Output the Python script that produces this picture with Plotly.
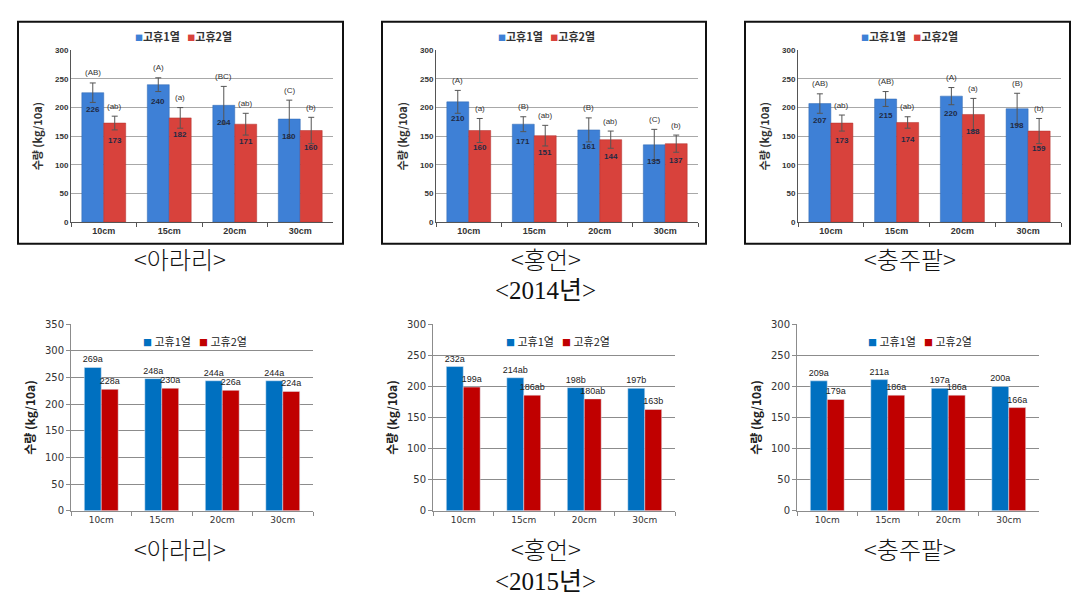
import plotly.graph_objects as go

W, H = 1085, 607

categories = ["10cm", "15cm", "20cm", "30cm"]
series_names = ["고휴1열", "고휴2열"]

# 2014 (top row)
arari14_s1 = [226, 240, 204, 180]
arari14_s2 = [173, 182, 171, 160]
arari14_e1 = [17, 12, 33, 33]
arari14_e2 = [12, 18, 19, 23]
arari14_l1 = ["(AB)", "(A)", "(BC)", "(C)"]
arari14_l2 = ["(ab)", "(a)", "(ab)", "(b)"]

hong14_s1 = [210, 171, 161, 135]
hong14_s2 = [160, 151, 144, 137]
hong14_e1 = [20, 13, 21, 27]
hong14_e2 = [21, 18, 15, 15]
hong14_l1 = ["(A)", "(B)", "(B)", "(C)"]
hong14_l2 = ["(a)", "(ab)", "(ab)", "(b)"]

chung14_s1 = [207, 215, 220, 198]
chung14_s2 = [173, 174, 188, 159]
chung14_e1 = [17, 13, 15, 27]
chung14_e2 = [14, 10, 28, 22]
chung14_l1 = ["(AB)", "(AB)", "(A)", "(B)"]
chung14_l2 = ["(ab)", "(ab)", "(a)", "(b)"]

# 2015 (bottom row)
arari15_s1 = [269, 248, 244, 244]
arari15_s2 = [228, 230, 226, 224]
arari15_l1 = ["a", "a", "a", "a"]
arari15_l2 = ["a", "a", "a", "a"]

hong15_s1 = [232, 214, 198, 197]
hong15_s2 = [199, 186, 180, 163]
hong15_l1 = ["a", "ab", "b", "b"]
hong15_l2 = ["a", "ab", "ab", "b"]

chung15_s1 = [209, 211, 197, 200]
chung15_s2 = [179, 186, 186, 166]
chung15_l1 = ["a", "a", "a", "a"]
chung15_l2 = ["a", "a", "a", "a"]

y_title = "수량 (kg/10a)"
captions_top = ["<아라리>", "<홍언>", "<충주팥>"]
captions_bot = ["<아라리>", "<홍언>", "<충주팥>"]
year_top = "<2014년>"
year_bot = "<2015년>"

KR = "Noto Sans CJK KR"
SERIF = "Liberation Serif, Noto Sans CJK KR"

def px_x(v):
    return v / W

def px_y(v):
    return 1 - v / H

fig = go.Figure()

top_sets = [
    (arari14_s1, arari14_s2, arari14_e1, arari14_e2, arari14_l1, arari14_l2),
    (hong14_s1, hong14_s2, hong14_e1, hong14_e2, hong14_l1, hong14_l2),
    (chung14_s1, chung14_s2, chung14_e1, chung14_e2, chung14_l1, chung14_l2),
]
bot_sets = [
    (arari15_s1, arari15_s2, arari15_l1, arari15_l2, 350),
    (hong15_s1, hong15_s2, hong15_l1, hong15_l2, 300),
    (chung15_s1, chung15_s2, chung15_l1, chung15_l2, 300),
]

top_dom_x = [(63, 325), (428, 690), (790, 1053)]
top_dom_y = (38, 213)
top_frames = [(10, 335), (374, 698), (737, 1062)]
top_legend_cx = [175, 538, 901]
bot_dom_x = [(63, 305), (425, 667), (789, 1031)]
bot_dom_y = (317, 507)
bot_legend_x = [(133, 189), (496, 552), (858, 914)]

TOP_BLUE = "#3E80D6"
TOP_RED = "#D8423C"
BOT_BLUE = "#0070C0"
BOT_RED = "#C00000"

shapes = []
annotations = []
layout_axes = {}

for i, (s1, s2, e1, e2, l1, l2) in enumerate(top_sets):
    n = i + 1
    xa = "x" if n == 1 else f"x{n}"
    ya = "y" if n == 1 else f"y{n}"
    bw = 0.335
    fig.add_trace(go.Bar(
        x=categories, y=s1, name=series_names[0], xaxis=xa, yaxis=ya, showlegend=False,
        width=bw, offset=-bw,
        marker=dict(color=TOP_BLUE, line=dict(color="#2F66B0", width=0.5)),
        error_y=dict(type="data", array=e1, color="#555555", thickness=1, width=3),
        textposition="none",
    ))
    fig.add_trace(go.Bar(
        x=categories, y=s2, name=series_names[1], xaxis=xa, yaxis=ya, showlegend=False,
        width=bw, offset=0,
        marker=dict(color=TOP_RED, line=dict(color="#B02E2A", width=0.5)),
        error_y=dict(type="data", array=e2, color="#555555", thickness=1, width=3),
        textposition="none",
    ))
    for j, c in enumerate(categories):
        for s, e, l, sh in ((s1, e1, l1, -0.5 * bw), (s2, e2, l2, 0.5 * bw)):
            annotations.append(dict(
                x=j + sh, y=s[j], xref=xa, yref=ya, text=f"<b>{s[j]}</b>",
                showarrow=False, yshift=-17, font=dict(size=8, color="#1F2A44", family="Arial"),
            ))
            annotations.append(dict(
                x=j + sh, y=s[j] + e[j], xref=xa, yref=ya, text=l[j],
                showarrow=False, yshift=10, font=dict(size=8, color="#333333", family="Arial"),
            ))
    dx = top_dom_x[i]
    layout_axes["xaxis" if n == 1 else f"xaxis{n}"] = dict(
        domain=[px_x(dx[0]), px_x(dx[1])], anchor=ya, type="category",
        range=[-0.5, 3.5], showgrid=False, showline=True, linecolor="#555555", linewidth=1,
        ticks="outside", tickson="boundaries", ticklen=4, tickcolor="#555555",
        tickfont=dict(size=9, color="#333333", family="Arial", weight="bold"),
        fixedrange=True,
    )
    layout_axes["yaxis" if n == 1 else f"yaxis{n}"] = dict(
        domain=[px_y(top_dom_y[1]), px_y(top_dom_y[0])], anchor=xa,
        range=[0, 300], dtick=50, showgrid=True, gridcolor="#A8A8A8", gridwidth=1,
        showline=True, linecolor="#555555", linewidth=1, zeroline=False,
        ticks="", tickfont=dict(size=8, color="#333333", family="Arial", weight="bold"),
        title=dict(text=f"<b>{y_title}</b>", font=dict(size=11, color="#333333", family=KR), standoff=10),
        fixedrange=True,
    )
    fr = top_frames[i]
    shapes.append(dict(type="rect", xref="paper", yref="paper",
                       x0=px_x(fr[0]), x1=px_x(fr[1]), y0=px_y(235), y1=px_y(9),
                       line=dict(color="#111111", width=2), fillcolor="rgba(0,0,0,0)", layer="above"))
    leg_text = (f"<span style='color:{TOP_BLUE};font-size:8px'>■</span><b>{series_names[0]}</b>"
                f"   <span style='color:{TOP_RED};font-size:8px'>■</span><b>{series_names[1]}</b>")
    annotations.append(dict(x=px_x(top_legend_cx[i]), y=px_y(23), xref="paper", yref="paper",
                            xanchor="center", yanchor="middle", text=leg_text, showarrow=False,
                            font=dict(size=11, color="#333333", family=KR)))

for i, (s1, s2, l1, l2, ymax) in enumerate(bot_sets):
    n = i + 4
    xa = f"x{n}"
    ya = f"y{n}"
    bw = 0.28
    fig.add_trace(go.Bar(
        x=categories, y=s1, name=series_names[0], xaxis=xa, yaxis=ya, showlegend=False,
        width=bw, offset=-bw, marker=dict(color=BOT_BLUE),
        text=[f"{v}{l}" for v, l in zip(s1, l1)], textposition="outside", constraintext="none",
        textfont=dict(size=9, color="#222222", family="Liberation Sans"), cliponaxis=False,
    ))
    fig.add_trace(go.Bar(
        x=categories, y=s2, name=series_names[1], xaxis=xa, yaxis=ya, showlegend=False,
        width=bw, offset=0, marker=dict(color=BOT_RED),
        text=[f"{v}{l}" for v, l in zip(s2, l2)], textposition="outside", constraintext="none",
        textfont=dict(size=9, color="#222222", family="Liberation Sans"), cliponaxis=False,
    ))
    dx = bot_dom_x[i]
    layout_axes[f"xaxis{n}"] = dict(
        domain=[px_x(dx[0]), px_x(dx[1])], anchor=ya, type="category",
        range=[-0.5, 3.5], showgrid=False, showline=True, linecolor="#8C8C8C", linewidth=1,
        ticks="outside", tickson="boundaries", ticklen=4, tickcolor="#8C8C8C",
        tickfont=dict(size=9, color="#333333", family="DejaVu Sans"),
        fixedrange=True,
    )
    layout_axes[f"yaxis{n}"] = dict(
        domain=[px_y(bot_dom_y[1]), px_y(bot_dom_y[0])], anchor=xa,
        range=[0, ymax], dtick=50, showgrid=True, gridcolor="#8C8C8C", gridwidth=1,
        showline=True, linecolor="#8C8C8C", linewidth=1, zeroline=False,
        ticks="outside", ticklen=4, tickcolor="#8C8C8C",
        tickfont=dict(size=10, color="#333333", family="DejaVu Sans"),
        title=dict(text=f"<b>{y_title}</b>", font=dict(size=12, color="#222222", family=KR), standoff=6),
        fixedrange=True,
    )
    for k, (col, nm) in enumerate(((BOT_BLUE, series_names[0]), (BOT_RED, series_names[1]))):
        annotations.append(dict(
            x=px_x(bot_legend_x[i][k]), y=px_y(334), xref="paper", yref="paper",
            xanchor="left", yanchor="middle", showarrow=False,
            text=f"<span style='color:{col};font-size:9px'>■</span> {nm}",
            font=dict(size=11, color="#222222", family=KR)))

cap_x = [172, 538, 902]
CAP_FONT = dict(size=24, color="#111111", family=KR, weight=300)
YEAR_FONT = dict(size=25, color="#111111", family=SERIF)
for i in range(3):
    annotations.append(dict(x=px_x(cap_x[i]), y=px_y(250), xref="paper", yref="paper",
                            xanchor="center", yanchor="middle",
                            text=captions_top[i], showarrow=False, font=CAP_FONT))
    annotations.append(dict(x=px_x(cap_x[i]), y=px_y(545), xref="paper", yref="paper",
                            xanchor="center", yanchor="middle",
                            text=captions_bot[i], showarrow=False, font=CAP_FONT))
annotations.append(dict(x=px_x(537), y=px_y(283), xref="paper", yref="paper",
                        xanchor="center", yanchor="middle",
                        text=year_top, showarrow=False, font=YEAR_FONT))
annotations.append(dict(x=px_x(537), y=px_y(579), xref="paper", yref="paper",
                        xanchor="center", yanchor="middle",
                        text=year_bot, showarrow=False, font=YEAR_FONT))

fig.update_layout(
    width=W, height=H, margin=dict(l=0, r=0, t=0, b=0),
    paper_bgcolor="white", plot_bgcolor="white",
    barmode="overlay", showlegend=False,
    shapes=shapes, annotations=annotations,
    **layout_axes,
)

fig.write_html("out.html")
